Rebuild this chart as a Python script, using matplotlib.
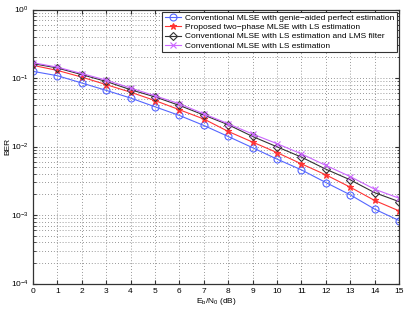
import numpy as np
import matplotlib
matplotlib.use("Agg")
import matplotlib.pyplot as plt
from matplotlib.ticker import LogLocator, NullFormatter, FixedLocator

plt.rcParams['font.family'] = ['Liberation Sans', 'DejaVu Sans']
plt.rcParams['mathtext.fontset'] = 'custom'
plt.rcParams['mathtext.rm'] = 'Liberation Sans'
plt.rcParams['mathtext.it'] = 'Liberation Sans:italic'
plt.rcParams['mathtext.bf'] = 'Liberation Sans:bold'

ebn0 = list(range(16))
ber_genie = [0.125, 0.108, 0.0845, 0.066, 0.051, 0.038, 0.0284, 0.0203, 0.014, 0.0096,
             0.00655, 0.00456, 0.00298, 0.00197, 0.00122, 0.00083]
ber_twophase = [0.153, 0.129, 0.103, 0.080, 0.062, 0.0469, 0.0344, 0.0252, 0.0166, 0.0116,
                0.00815, 0.00558, 0.00386, 0.00255, 0.00163, 0.00115]
ber_ls_lms = [0.162, 0.14, 0.112, 0.089, 0.0675, 0.053, 0.0398, 0.0288, 0.0208, 0.014,
              0.0099, 0.0070, 0.00467, 0.00326, 0.00212, 0.00157]
ber_ls = [0.167, 0.144, 0.116, 0.093, 0.0714, 0.055, 0.042, 0.030, 0.0215, 0.0152,
          0.011, 0.0078, 0.0053, 0.00364, 0.00238, 0.00176]
labels = ["Conventional MLSE with genie\u2212aided perfect estimation",
          "Proposed two\u2212phase MLSE with LS estimation",
          "Conventional MLSE with LS estimation and LMS filter",
          "Conventional MLSE with LS estimation"]

fig = plt.figure(figsize=(4.07, 3.10), dpi=100)
ax = fig.add_axes([33/407, 1-283.5/310, 366/407, 274/310])

lw = 0.8
ax.semilogy(ebn0, ber_genie, '-o', color='#5566ff', lw=lw, ms=5, mfc='none', mew=0.8, label=labels[0])
ax.semilogy(ebn0, ber_twophase, '-*', color='#ff3333', lw=lw, ms=5, mew=0.8, label=labels[1])
ax.semilogy(ebn0, ber_ls_lms, '-D', color='#333333', lw=lw, ms=4, mfc='none', mew=0.8, label=labels[2])
ax.semilogy(ebn0, ber_ls, '-x', color='#cc66ff', lw=lw, ms=4.5, mew=0.8, label=labels[3])

ax.set_xlim(0, 15)
ax.set_ylim(1e-4, 1)
ax.xaxis.set_major_locator(FixedLocator(ebn0))
ax.yaxis.set_major_locator(LogLocator(base=10, numticks=10))
ax.yaxis.set_minor_locator(LogLocator(base=10, subs=np.arange(2, 10), numticks=10))
ax.yaxis.set_minor_formatter(NullFormatter())

gstyle = dict(linestyle=(0, (1, 2.5)), color='#777777', lw=0.6)
ax.grid(True, which='major', **gstyle)
ax.grid(True, which='minor', axis='y', **gstyle)

ax.tick_params(which='both', direction='in', top=True, right=True, labelsize=6, pad=3,
               color='#333333')
ax.tick_params(which='major', length=3)
ax.tick_params(which='minor', length=1.8)
for s in ax.spines.values():
    s.set_color('#333333')
    s.set_linewidth(0.9)

ax.set_xlabel(r'E$_\mathrm{b}$/N$_\mathrm{0}$ (dB)', fontsize=6, labelpad=1)
ax.set_ylabel('BER', fontsize=6)
ax.yaxis.set_label_coords(-0.060, 0.5)

leg = ax.legend(loc='upper right', fontsize=6, frameon=True, fancybox=False,
                edgecolor='#333333', framealpha=1, handlelength=2.0, borderpad=0.3,
                labelspacing=0.15, handletextpad=0.4, borderaxespad=0.3)
leg.get_frame().set_linewidth(0.8)

fig.savefig('out.png', dpi=100)
